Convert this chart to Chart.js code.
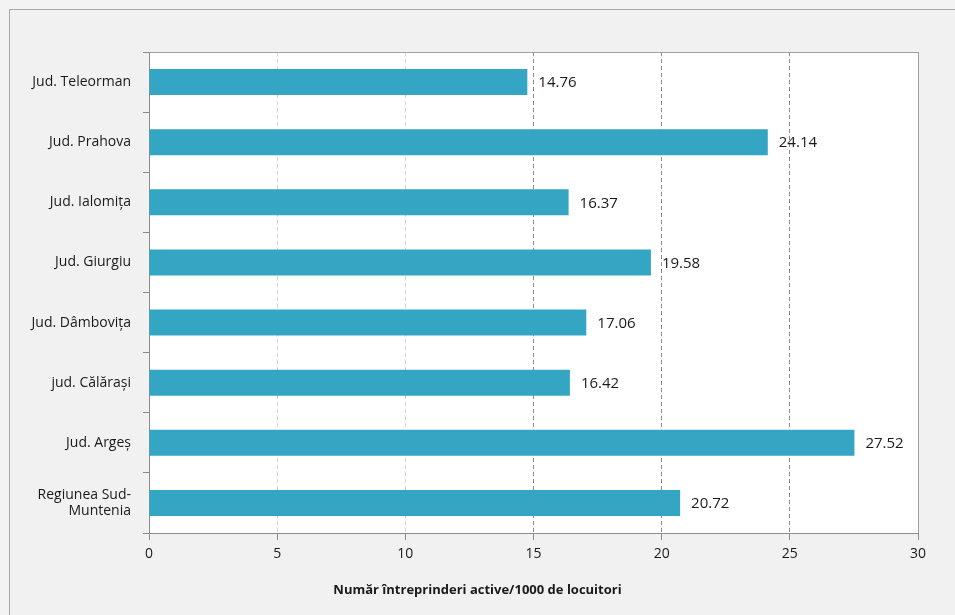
<!DOCTYPE html>
<html>
<head>
<meta charset="utf-8">
<script src="https://cdn.jsdelivr.net/npm/chart.js@4"></script>
<style>
  html, body { margin: 0; padding: 0; background: #f3f3f3; }
  #frame {
    position: absolute; left: 9px; top: 9px; width: 960px; height: 620px;
    border: 1px solid #a8a8a8; background: #f1f1f1;
  }
  #wrap { position: absolute; left: 0; top: 0; width: 955px; height: 615px; }
</style>
</head>
<body>
<div id="frame"></div>
<div id="wrap"><canvas id="firmChart" width="955" height="615"></canvas></div>
<script>
const counties = [
    'Jud. Teleorman', 'Jud. Prahova', 'Jud. Ialomița', 'Jud. Giurgiu',
    'Jud. Dâmbovița', 'jud. Călărași', 'Jud. Argeș', ['Regiunea Sud-', 'Muntenia']
];
const firmsPer1000 = [14.76, 24.14, 16.37, 19.58, 17.06, 16.42, 27.52, 20.72];
const axisTitle = 'Număr întreprinderi active/1000 de locuitori';

const font = "'Open Sans', 'Liberation Sans', sans-serif";

// white plot area with grey frame on top/right
const plotBox = {
    id: 'plotBox',
    beforeDraw(chart) {
        const a = chart.chartArea, c = chart.ctx;
        c.save();
        c.fillStyle = '#ffffff';
        c.fillRect(a.left, a.top, a.right - a.left, a.bottom - a.top);
        c.restore();
    },
    afterDraw(chart) {
        const a = chart.chartArea, c = chart.ctx;
        c.save();
        c.strokeStyle = '#a0a0a0';
        c.lineWidth = 1;
        c.beginPath();
        c.moveTo(a.left, a.top + 0.5);
        c.lineTo(a.right + 0.5, a.top + 0.5);
        c.lineTo(a.right + 0.5, a.bottom);
        c.stroke();
        // axis title, sits a bit left of centre like the original
        const xs = chart.scales.x;
        c.fillStyle = '#1a1a1a';
        c.font = 'bold 13px ' + font;
        c.textAlign = 'center';
        c.textBaseline = 'middle';
        c.fillText(axisTitle, (xs.left + xs.right) / 2 - 56, 590);
        c.restore();
    }
};

// value labels just past the end of each bar
const valueLabels = {
    id: 'valueLabels',
    afterDatasetsDraw(chart) {
        const c = chart.ctx;
        const meta = chart.getDatasetMeta(0);
        c.save();
        c.fillStyle = '#1a1a1a';
        c.font = '15px ' + font;
        c.textAlign = 'left';
        c.textBaseline = 'middle';
        meta.data.forEach((bar, i) => {
            c.fillText(firmsPer1000[i].toFixed(2), bar.x + 11, bar.y + 1);
        });
        c.restore();
    }
};

new Chart(document.getElementById('firmChart').getContext('2d'), {
    type: 'bar',
    data: {
        labels: counties,
        datasets: [{
            data: firmsPer1000,
            backgroundColor: '#35a5c4',
            borderWidth: 0,
            barPercentage: 0.9,
            categoryPercentage: 0.48
        }]
    },
    options: {
        indexAxis: 'y',
        responsive: false,
        animation: false,
        layout: { padding: { top: 52, right: 37, left: 0, bottom: 0 } },
        plugins: {
            legend: { display: false },
            tooltip: { enabled: false }
        },
        scales: {
            x: {
                min: 0,
                max: 30,
                ticks: {
                    stepSize: 5,
                    padding: 6,
                    color: '#1a1a1a',
                    font: { family: font, size: 14 }
                },
                grid: {
                    // the 5 and 10 lines are very faint in the original
                    color: (ctx) => (ctx.tick && (ctx.tick.value === 5 || ctx.tick.value === 10)) ? '#d4d4d4' : '#8c8c8c',
                    tickColor: '#8c8c8c',
                    tickLength: 7,
                    tickBorderDash: []
                },
                border: { display: true, color: '#8c8c8c', dash: [4, 3] },
                afterFit(s) { s.height = 82; }
            },
            y: {
                ticks: {
                    padding: 12,
                    color: '#1a1a1a',
                    font: { family: font, size: 14 }
                },
                grid: {
                    drawOnChartArea: false,
                    color: '#8c8c8c',
                    tickLength: 6
                },
                border: { display: true, color: '#8c8c8c' },
                afterFit(s) { s.width = 149; }
            }
        }
    },
    plugins: [plotBox, valueLabels]
});
</script>
</body>
</html>
